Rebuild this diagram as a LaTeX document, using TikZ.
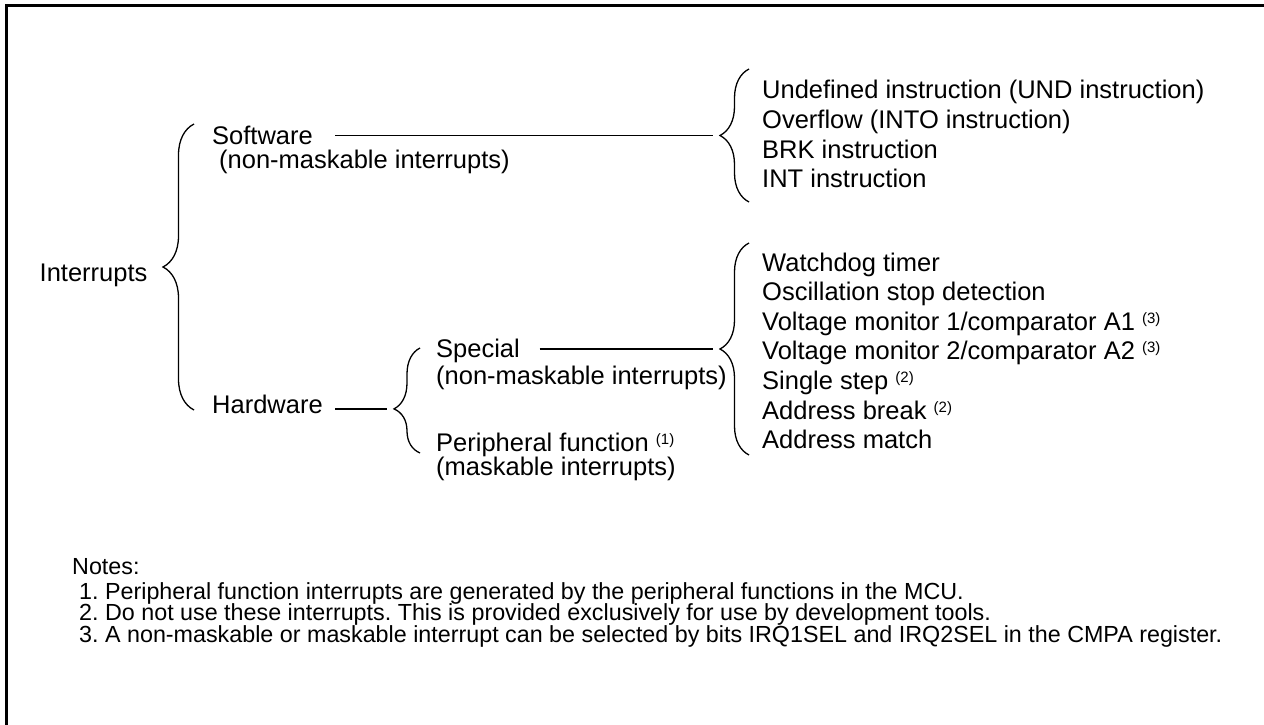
\documentclass[tikz,border=0pt]{standalone}
\usepackage{fontspec}
\setmainfont{Liberation Sans}
\usetikzlibrary{decorations.pathreplacing}
\frenchspacing
\newcommand{\fnmark}[1]{\raisebox{7pt}{\fontsize{15}{15}\selectfont(#1)}}

\begin{document}
\begin{tikzpicture}[x=1pt,y=-1pt]
    \tikzstyle{boxline}=[line width=3pt]
    \tikzstyle{link}=[line width=1.3pt,shorten >=7pt]
    \tikzstyle{curly}=[line width=1.3pt,decorate,decoration={brace}]
    \tikzstyle{txt}=[anchor=base west,inner sep=0pt,font=\fontsize{25.5}{30}\selectfont]
    \tikzstyle{notetxt}=[anchor=base west,inner sep=0pt,font=\fontsize{23.3}{21}\selectfont]
    \useasboundingbox (0,0) rectangle (1264,725);
    % Frame
    \draw[boxline] (6.5,725) -- (6.5,5.5) -- (1264,5.5);
    % Labels
    \node[txt] (intr) at (39.5,281) {Interrupts};
    \node[txt] (soft) at (212,144) {Software};
    \node[txt] (softsub) at (219,168) {(non-maskable interrupts)};
    \node[txt] (hard) at (212,413) {Hardware};
    \node[txt] (spec) at (436,357) {Special};
    \node[txt] (specsub) at (436,384) {(non-maskable interrupts)};
    \node[txt] (peri) at (436,451) {Peripheral function \fnmark{1}};
    \node[txt] (perisub) at (436,475) {(maskable interrupts)};
    \foreach \txt [count=\i from 0] in {{Undefined instruction (UND instruction)},
        {Overflow (INTO instruction)},{BRK instruction},{INT instruction}}
      \node[txt] (sw\i) at (762,99+29.6*\i) {\txt};
    \foreach \txt [count=\i from 0] in {{Watchdog timer},{Oscillation stop detection},
        {Voltage monitor 1/comparator A1 \fnmark{3}},{Voltage monitor 2/comparator A2 \fnmark{3}},
        {Single step \fnmark{2}},{Address break \fnmark{2}},{Address match}}
      \node[txt] (sp\i) at (762,271+29.6*\i) {\txt};
    % Braces
    \draw[curly,decoration={amplitude=31pt}] (194,410) -- (194,124);
    \draw[curly,decoration={amplitude=29pt}] (749,202) -- (749,69);
    \draw[curly,decoration={amplitude=26pt,aspect=0.42}] (420,453) -- (420,348);
    \draw[curly,decoration={amplitude=29pt}] (749,455) -- (749,243);
    \coordinate (swtip) at (720,135.5);
    \coordinate (hwtip) at (394,409);
    \coordinate (sptip) at (720,349);
    % Lines
    \draw[link,shorten <=22pt] (soft.east |- swtip) -- (swtip);
    \draw[link,shorten <=12.5pt] (hard.east |- hwtip) -- (hwtip);
    \draw[link,shorten <=19.5pt] (spec.east |- sptip) -- (sptip);
    % Notes
    \node[notetxt] (notes) at (72,574) {Notes:};
    \foreach \txt [count=\i] in {{Peripheral function interrupts are generated by the peripheral functions in the MCU.},
        {Do not use these interrupts. This is provided exclusively for use by development tools.},
        {A non-maskable or maskable interrupt can be selected by bits IRQ1SEL and IRQ2SEL in the CMPA register.}}
      \node[notetxt] (note\i) at (79,577.5+21.5*\i) {\i. \txt};
\end{tikzpicture}
\end{document}
